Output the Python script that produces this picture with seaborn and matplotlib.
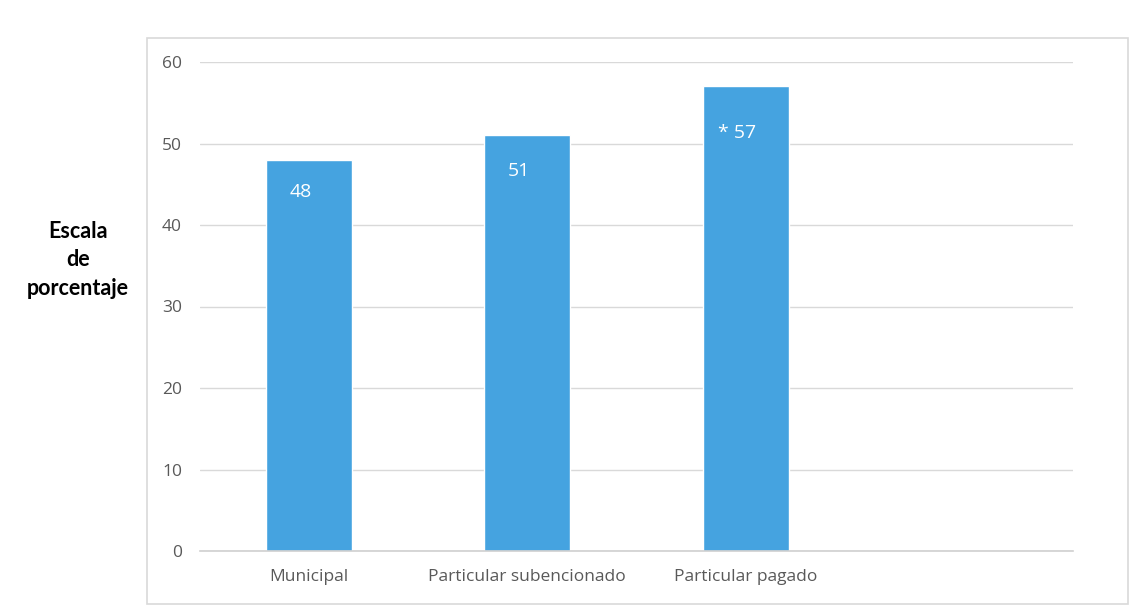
import numpy as np
import pandas as pd
import matplotlib.pyplot as plt
import seaborn as sns
from matplotlib.patches import Rectangle

# data
categories = ['Municipal', 'Particular subencionado', 'Particular pagado', '']
values = [48, 51, 57, 0]
labels = ['48', '51', '* 57', '']
label_drop = [4.0, 4.4, 5.7, 0]   # how far below the bar top the label sits

df = pd.DataFrame({'tipo': categories, 'pct': values})

sns.set_theme(style='white')
plt.rcParams['font.family'] = ['Open Sans', 'DejaVu Sans']

fig = plt.figure(figsize=(11.36, 6.14), dpi=100)
ax = fig.add_axes([200/1136, 1 - 551/614, 873/1136, 489/614])

sns.barplot(data=df, x='tipo', y='pct', order=categories, color='#45A3E0',
            saturation=1, width=0.395, ax=ax)

ax.set_ylim(0, 60)
ax.set_xlim(-0.5, 3.5)
ax.set_yticks(range(0, 61, 10))
ax.yaxis.grid(True, color='#d9d9d9', linewidth=1)
ax.set_axisbelow(True)
for s in ['top', 'right', 'left']:
    ax.spines[s].set_visible(False)
ax.spines['bottom'].set_color('#d0d0d0')
ax.spines['bottom'].set_linewidth(1.2)
ax.tick_params(axis='both', length=0, labelsize=12.5, labelcolor='#595959')
ax.tick_params(axis='y', pad=13)
ax.tick_params(axis='x', pad=13)
ax.set_xlabel('')
ax.set_ylabel('')

# value labels inside the bars
for i, (v, t, d) in enumerate(zip(values, labels, label_drop)):
    if t:
        ax.text(i - 0.04, v - d, t, color='white', fontsize=14,
                ha='center', va='center')

fig.text(78/1136, 1 - 260/614, 'Escala\nde\nporcentaje', ha='center', va='center',
         fontsize=15.5, fontweight='bold', family=['Lato', 'DejaVu Sans'],
         color='black', linespacing=1.45)

# light frame around the chart
fig.patches.append(Rectangle((147/1136, 1 - 604/614), 981/1136, 566/614,
                             transform=fig.transFigure, fill=False,
                             edgecolor='#d9d9d9', linewidth=1.2))

fig.savefig('out.png', dpi=100, facecolor='white')
